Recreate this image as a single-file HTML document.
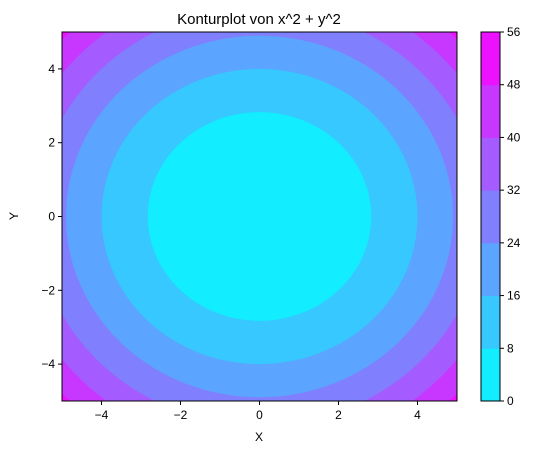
<!DOCTYPE html>
<html><head><meta charset="utf-8"><style>
body{margin:0;background:#fff;}
svg{font-family:"Liberation Sans","DejaVu Sans",sans-serif;}
</style></head><body>
<svg id="chart" width="537" height="455" xmlns="http://www.w3.org/2000/svg">
<defs><clipPath id="clip"><rect x="62" y="32" width="395" height="369"/></clipPath></defs>
<text x="259" y="24" text-anchor="middle" font-size="15">Konturplot von x^2 + y^2</text>
<g id="plot" clip-path="url(#clip)"></g>
<rect x="62" y="32" width="395" height="369" fill="none" stroke="#000" stroke-width="1"/>
<g id="axes"></g>
<g id="cbar"></g>
<text x="259" y="441" text-anchor="middle" font-size="12">X</text>
<text x="18" y="216" text-anchor="middle" font-size="12" transform="rotate(-90 18 216)">Y</text>
</svg>
<script>
const levels=[0,8,16,24,32,40,48,56];
const xTicks=[-4,-2,0,2,4];
const yTicks=[-4,-2,0,2,4];
const cbTicks=[0,8,16,24,32,40,48,56];
const NS="http://www.w3.org/2000/svg";
const X0=62,X1=457,Y0=401,Y1=32;
const sx=v=>X0+(v+5)/10*(X1-X0);
const sy=v=>Y0-(v+5)/10*(Y0-Y1);
const vmin=levels[0],vmax=levels[levels.length-1];
function cool(t){return `rgb(${Math.round(t*255)},${Math.round((1-t)*255)},255)`;}
function el(tag,attrs,parent){const e=document.createElementNS(NS,tag);for(const k in attrs)e.setAttribute(k,attrs[k]);parent.appendChild(e);return e;}
const plot=document.getElementById('plot');
// draw bands from outermost to innermost
for(let i=levels.length-2;i>=0;i--){
  const mid=(levels[i]+levels[i+1])/2, c=cool((mid-vmin)/(vmax-vmin));
  const r=Math.sqrt(levels[i+1]);
  let e;
  if(i===levels.length-2){
    e=el('rect',{x:X0,y:Y1,width:X1-X0,height:Y0-Y1,fill:c},plot);
  } else {
    e=el('ellipse',{cx:sx(0),cy:sy(0),rx:sx(r)-sx(0),ry:sy(0)-sy(r),fill:c},plot);
  }
  
  
}
const axes=document.getElementById('axes');
xTicks.forEach(v=>{
  const x=sx(v);
  const l=el('line',{x1:x,x2:x,y1:Y0,y2:Y0+4,stroke:'#000'},axes);
  
  
  const t=el('text',{x:x,y:Y0+18,'text-anchor':'middle','font-size':12},axes);
  t.textContent=(v<0?'\u2212'+(-v):v);
  
  
});
yTicks.forEach(v=>{
  const y=sy(v);
  const l=el('line',{x1:X0-4,x2:X0,y1:y,y2:y,stroke:'#000'},axes);
  
  
  const t=el('text',{x:X0-7,y:y+4,'text-anchor':'end','font-size':12},axes);
  t.textContent=(v<0?'\u2212'+(-v):v);
  
  
});
const cb=document.getElementById('cbar');
const CX=481,CW=19;
const cy=v=>Y0-(v-vmin)/(vmax-vmin)*(Y0-Y1);
for(let i=0;i<levels.length-1;i++){
  const mid=(levels[i]+levels[i+1])/2;
  const r=el('rect',{x:CX,y:cy(levels[i+1]),width:CW,height:cy(levels[i])-cy(levels[i+1])+0.5,fill:cool((mid-vmin)/(vmax-vmin))},cb);
  
  
}
el('rect',{x:CX,y:Y1,width:CW,height:Y0-Y1,fill:'none',stroke:'#000'},cb);
cbTicks.forEach(v=>{
  const y=cy(v);
  const l=el('line',{x1:CX+CW,x2:CX+CW+4,y1:y,y2:y,stroke:'#000'},cb);
  
  
  const t=el('text',{x:CX+CW+7,y:y+4,'font-size':12},cb);
  t.textContent=v;
  
  
});
</script>
</body></html>
